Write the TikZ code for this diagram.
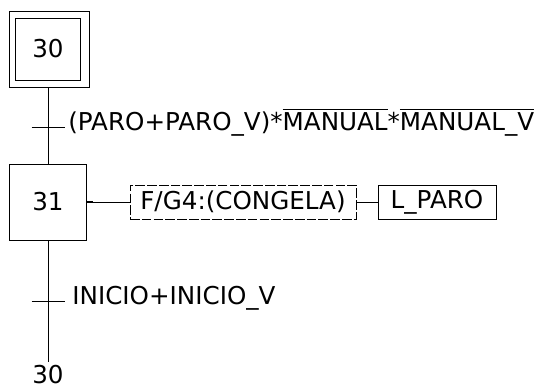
\documentclass[tikz,border=0pt]{standalone}
\usepackage{fontspec}
\setmainfont{DejaVu Sans}
\usetikzlibrary{positioning}
\newcommand{\negado}[1]{$\overline{\mbox{#1}}$}

\begin{document}
\begin{tikzpicture}[every node/.style={font=\fontsize{14}{16}\selectfont},
	etapa/.style={draw, minimum width=1.53cm, minimum height=1.52cm, inner sep=0pt},
	inicial/.style={draw, minimum width=1.3cm, minimum height=1.24cm, inner sep=0pt},
	accion/.style={draw, minimum height=0.68cm, inner sep=2pt},
	trans/.style={anchor=base west, inner sep=0pt}]
	\useasboundingbox (0,0) rectangle (10.82,-7.82);
	% etapas
	\node[inicial] (s30) at (0.96,-0.98) {30};
	\draw (0.19,-0.22) rectangle (1.78,-1.74);
	\coordinate (s30b) at (0.96,-1.74);
	\node[etapa] (s31) at (0.96,-4.04) {31};
	\node[inner sep=0pt] (r30) at (0.96,-7.5) {30};
	% receptividades
	\coordinate (t1) at (0.96,-2.54);
	\coordinate (t2) at (0.96,-6.03);
	\coordinate (fin) at (0.96,-7.24);
	\draw (s30b) -- (s31.north);
	\draw (s31.south) -- (fin);
	\draw (t1) ++(-0.33,0) -- ++(0.66,0);
	\draw (t2) ++(-0.33,0) -- ++(0.66,0);
	\node[trans] (c1) at (1.36,-2.6) {(PARO+PARO\_V)*\negado{MANUAL}*\negado{MANUAL\_V}};
	\node[trans] (c2) at (1.44,-6.09) {INICIO+INICIO\_V};
	% acciones
	\node[accion, dash pattern=on 5.5pt off 1.2pt, minimum width=4.52cm] (a1) at (4.86,-4.04) {F/G4:(CONGELA)};
	\node[accion, minimum width=2.36cm] (a2) at (8.74,-4.04) {L\_PARO};
	\draw (s31.east) -- (a1.west);
	\draw[line width=1pt] (s31.east) -- ++(0.12,0);
	\draw (a1.east) -- (a2.west);
\end{tikzpicture}
\end{document}
